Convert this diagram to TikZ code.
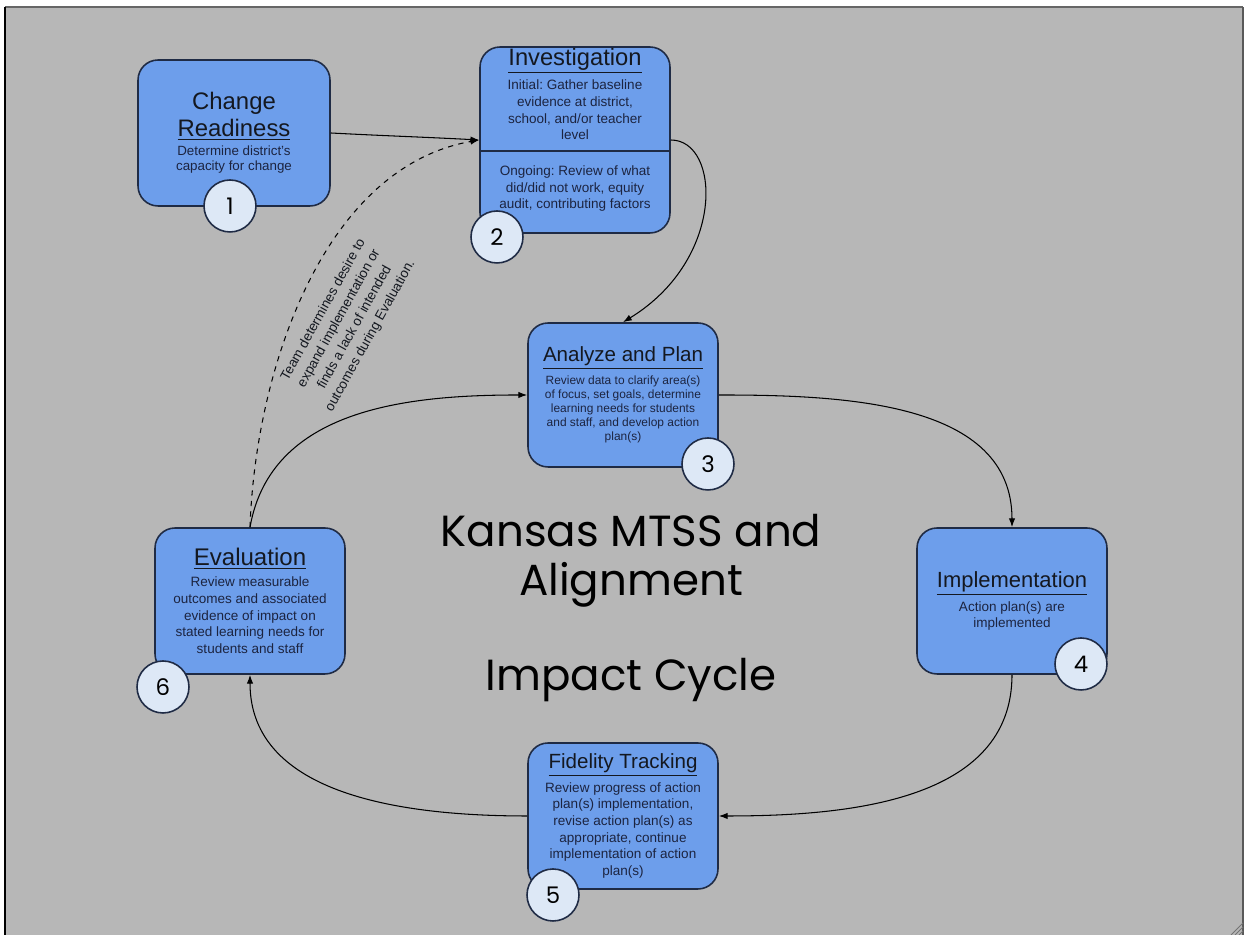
\documentclass[tikz,border=0pt]{standalone}
\usepackage{fontspec}
\setmainfont{Liberation Sans}
\newfontfamily\cyclefont{Poppins}
\usetikzlibrary{arrows.meta}
\frenchspacing
\definecolor{boxfill}{HTML}{6D9EEB}
\definecolor{boxline}{HTML}{1F2B45}
\definecolor{numfill}{HTML}{DDE8F6}
\definecolor{bggray}{HTML}{B7B7B7}
\definecolor{headtext}{HTML}{141820}
\definecolor{bodytext}{HTML}{1C2440}
\newcommand{\stagehead}[3]{{\fontsize{#1}{#2}\selectfont\noindent\color{headtext}#3\par}}
\newcommand{\stagebody}[3]{{\fontsize{#1}{#2}\selectfont\vskip 2.5pt\noindent\color{bodytext}#3\par}}

\begin{document}
\begin{tikzpicture}
[x=0.02cm,y=0.02cm,
  stagedecorate/.style={shape=rectangle,rounded corners=0.4cm,draw=boxline,fill=boxfill,
    line width=0.9pt,minimum width=3.8cm,minimum height=2.92cm,inner sep=2pt,
    text width=3.6cm,align=flush center},
  numberdecorate/.style={shape=circle,draw=boxline,fill=numfill,line width=0.9pt,
    minimum size=1.04cm,inner sep=0pt,font=\cyclefont\fontsize{13}{15}\selectfont},
  linedecorate/.style={-{Latex[length=5pt,width=3.6pt]},line width=0.6pt,draw=black}]
%% frame
\useasboundingbox (0,0) rectangle (1245,935);
\fill[white] (0,0) rectangle (1245,935);
\fill[bggray] (5,0) rectangle (1243,928);
\draw[line width=1.2pt,black!60] (5,928) -- (1243,928);
\draw[line width=1pt,black] (5,0) -- (5,928);
\draw[line width=0.8pt,black!65] (1243,0) -- (1243,928);
\foreach \d in {4,8,12}
  \draw[line width=0.5pt,black!55] (1243-\d,0) -- (1243,\d);
%% stages
\node (readiness) at (234,802) [stagedecorate,minimum width=3.84cm]
  {\stagehead{13.6}{15.3}{Change\\\underline{Readiness}}%
   \stagebody{7.6}{8.5}{Determine district's\\capacity for change}};
\node (investigation) at (575,795) [stagedecorate,minimum height=3.72cm] {};
\draw[boxline,line width=0.9pt] ([yshift=-0.22cm]investigation.west) -- ([yshift=-0.22cm]investigation.east);
\node (initialtext) at (575,841) [text width=3.6cm,align=flush center,inner sep=0pt]
  {\stagehead{13.5}{16}{\underline{Investigation}}%
   \stagebody{7.7}{9.45}{Initial: Gather baseline\\evidence at district,\\school, and/or teacher\\level}};
\node (ongoingtext) at (575,752) [text width=3.6cm,align=flush center,inner sep=0pt]
  {\stagebody{7.7}{9.45}{Ongoing: Review of what\\did/did not work, equity\\audit, contributing factors}};
\node (analyze) at (623,540) [stagedecorate,minimum height=2.88cm]
  {\stagehead{11.7}{14}{\underline{Analyze and Plan}}%
   \stagebody{6.8}{8.1}{Review data to clarify area(s)\\of focus, set goals, determine\\learning needs for students\\and staff, and develop action\\plan(s)}};
\node (implementation) at (1012,334) [stagedecorate]
  {\stagehead{12.5}{15}{\underline{Implementation}}%
   \stagebody{7.7}{9.45}{Action plan(s) are\\implemented}};
\node (fidelity) at (623,119) [stagedecorate]
  {\stagehead{11.7}{14}{\underline{Fidelity Tracking}}%
   \stagebody{7.7}{9.45}{Review progress of action\\plan(s) implementation,\\revise action plan(s) as\\appropriate, continue\\implementation of action\\plan(s)}};
\node (evaluation) at (250,334) [stagedecorate]
  {\stagehead{13.7}{16}{\underline{Evaluation}}%
   \stagebody{7.7}{9.45}{Review measurable\\outcomes and associated\\evidence of impact on\\stated learning needs for\\students and staff}};
%% title
\node (cycletitle) at (631,327) [align=center,font=\cyclefont\fontsize{24.8}{27.8}\selectfont]
  {Kansas MTSS and\\Alignment\\[26pt]Impact Cycle};
%% edges
\path
\foreach \startnode/\endnode/\outangle/\inangle in {readiness.east/investigation.west/-3/177,
  analyze.east/implementation.north/0/90, implementation.south/fidelity.east/-90/0,
  fidelity.west/evaluation.south/180/-90, evaluation.north/analyze.west/80/180}
{
  (\startnode) edge[linedecorate,out=\outangle,in=\inangle] (\endnode)
};
\draw[linedecorate] (investigation.east) .. controls +(50,0) and +(103,63) .. (analyze.north);
\path (evaluation.north) edge[linedecorate,dashed,out=88,in=190,looseness=0.9] (investigation.west);
\node (feedbacktext) at (347,612) [rotate=61,text width=3.6cm,align=flush center,
  inner sep=0pt,text=headtext,font=\fontsize{7.7}{10.2}\selectfont]
  {Team determines desire to\\expand implementation or\\finds a lack of intended\\outcomes during Evaluation.};
%% step numbers
\foreach \num/\x/\y in {1/230/729, 2/497/698, 3/708/471, 4/1081/271, 5/553/40, 6/163/248}
{
  \node (num\num) at (\x,\y) [numberdecorate] {\num};
}
\end{tikzpicture}
\end{document}
